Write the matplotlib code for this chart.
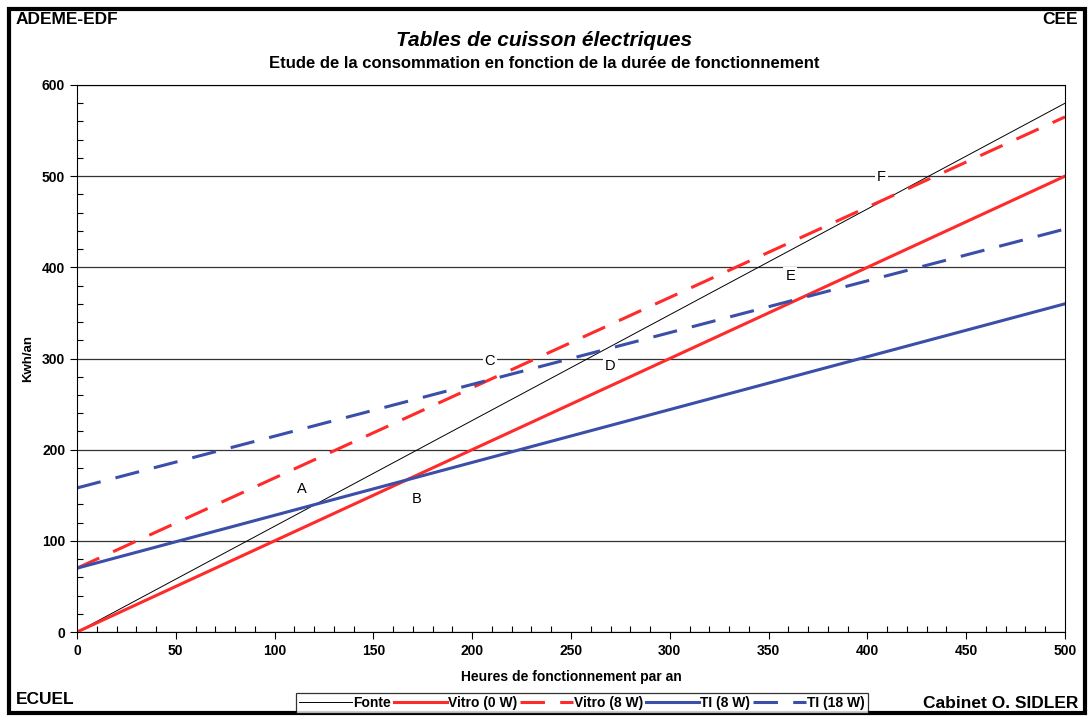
import numpy as np
import matplotlib.pyplot as plt
from matplotlib.ticker import MultipleLocator
from matplotlib.patches import Rectangle

plt.rcParams['font.family'] = ['Liberation Sans', 'DejaVu Sans']

# heures de fonctionnement -> consommation (kWh/an)
hours = [0, 500]
fonte = [0, 580]
vitro_0w = [0, 500]
vitro_8w = [70, 565]
ti_8w = [70, 360]
ti_18w = [158, 442]

point_names = ['A', 'B', 'C', 'D', 'E', 'F']
point_x = [114, 172, 209, 270, 361, 407]
point_y = [157, 146, 297, 292, 390, 499]

fig = plt.figure(figsize=(10.89, 7.18), dpi=100)
ax = fig.add_axes([77/1089, 1 - 632/718, 988/1089, 547/718])

red = '#ff2a2a'
blue = '#3b4fa8'
ax.plot(hours, fonte, color='black', lw=0.7, label='Fonte')
ax.plot(hours, vitro_0w, color=red, lw=2.2, label='Vitro (0 W)')
ax.plot(hours, vitro_8w, color=red, lw=2.2, dashes=(8, 5), label='Vitro (8 W)')
ax.plot(hours, ti_8w, color=blue, lw=2.2, label='TI (8 W)')
ax.plot(hours, ti_18w, color=blue, lw=2.2, dashes=(8, 5), label='TI (18 W)')

for name, x, y in zip(point_names, point_x, point_y):
    ax.text(x, y, name, ha='center', va='center', fontsize=10.5, zorder=5,
            bbox=dict(facecolor='white', edgecolor='none', pad=1.5))

ax.set_xlim(0, 500)
ax.set_ylim(0, 600)
ax.xaxis.set_major_locator(MultipleLocator(50))
ax.xaxis.set_minor_locator(MultipleLocator(10))
ax.yaxis.set_major_locator(MultipleLocator(100))
ax.yaxis.set_minor_locator(MultipleLocator(20))
ax.tick_params(which='major', direction='out', length=5, width=0.8, labelsize=10)
ax.tick_params(which='minor', direction='in', length=4, width=0.8)
for lab in ax.get_xticklabels() + ax.get_yticklabels():
    lab.set_fontweight('bold')
ax.grid(axis='y', which='major', color='#333333', lw=0.9)
ax.set_axisbelow(True)

ax.set_xlabel('Heures de fonctionnement par an', fontsize=10, fontweight='bold')
ax.xaxis.set_label_coords(0.5, -(677 - 632) / 547, transform=ax.transAxes)
ax.xaxis.label.set_va('center')
ax.set_ylabel('Kwh/an', fontsize=9.5, fontweight='bold')
ax.yaxis.set_label_coords(-(77 - 28) / 988, 0.5, transform=ax.transAxes)
ax.yaxis.label.set_va('center')

fig.text(0.5, 1 - 40/718, 'Tables de cuisson électriques', ha='center', va='center',
         fontsize=15, fontweight='bold', style='italic')
fig.text(0.5, 1 - 64/718, 'Etude de la consommation en fonction de la durée de fonctionnement',
         ha='center', va='center', fontsize=12, fontweight='bold')
fig.text(16/1089, 1 - 20/718, 'ADEME-EDF', ha='left', va='center', fontsize=12.5, fontweight='bold')
fig.text(1078/1089, 1 - 20/718, 'CEE', ha='right', va='center', fontsize=12.5, fontweight='bold')
fig.text(16/1089, 1 - 700/718, 'ECUEL', ha='left', va='center', fontsize=12.5, fontweight='bold')
fig.text(1078/1089, 1 - 703/718, 'Cabinet O. SIDLER', ha='right', va='center', fontsize=12.5, fontweight='bold')

leg = fig.legend(loc='center', bbox_to_anchor=(582/1089, 1 - 703/718), ncol=5,
                 frameon=True, fancybox=False, edgecolor='black',
                 handlelength=3.8, handletextpad=0.1, columnspacing=0.2,
                 borderpad=0.25, prop={'weight': 'bold', 'size': 10})
leg.get_frame().set_linewidth(0.9)

fig.patches.append(Rectangle((9/1089, 5/718), 1076/1089, 704/718, transform=fig.transFigure,
                             fill=False, edgecolor='black', lw=3))

plt.savefig('out.png', dpi=100)
